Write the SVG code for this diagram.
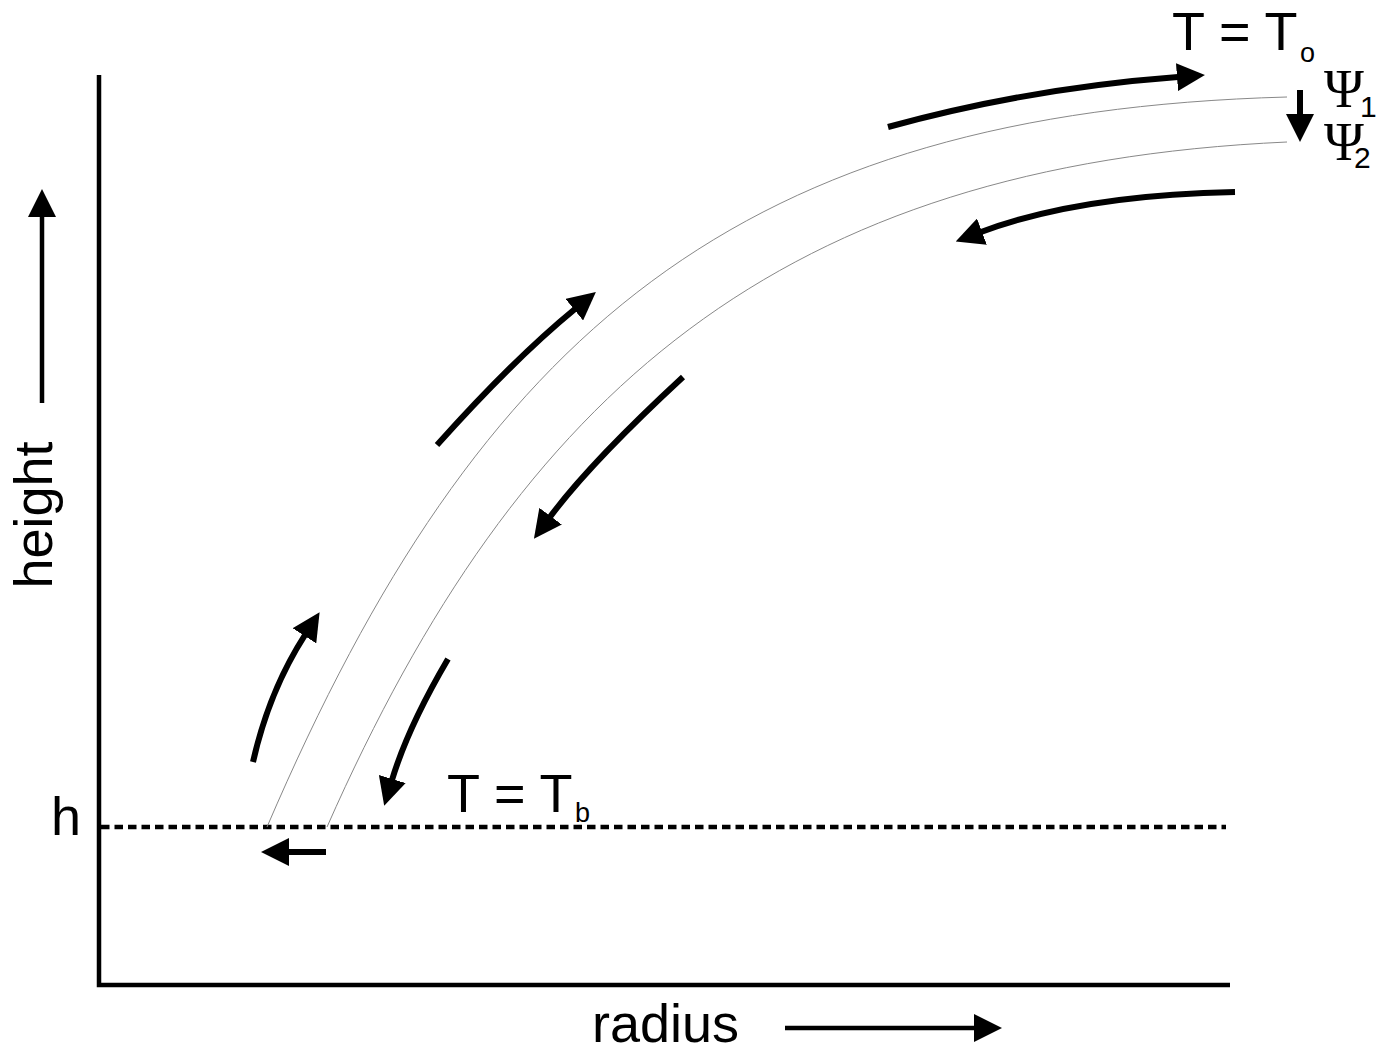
<svg xmlns="http://www.w3.org/2000/svg" width="1377" height="1055" viewBox="0 0 1377 1055">
<style>
.lbl{font-family:"Liberation Sans",Arial,sans-serif;fill:#000}
.psi{font-family:"Liberation Serif","Times New Roman",serif;fill:#000}
.axis{stroke:#000;stroke-width:4.5;fill:none}
.flow{stroke:#000;stroke-width:6;fill:none;marker-end:url(#head)}
.thin{stroke:#000;stroke-width:4.5;fill:none;marker-end:url(#head)}
.stream{stroke:#888;stroke-width:1;fill:none}
</style>
<defs>
<marker id="head" markerUnits="userSpaceOnUse" viewBox="0 0 28 28" markerWidth="28" markerHeight="28" refX="1" refY="14" orient="auto">
<path d="M0,0 L28,14 L0,28 Z" fill="#000"/>
</marker>
</defs>
<rect width="1377" height="1055" fill="#fff"/>
<g id="axes">
<path class="axis" d="M99,75 L99,985 L1230,985"/>
</g>
<g id="base-level">
<line x1="101" y1="827" x2="1226" y2="827" stroke="#000" stroke-width="4.5" stroke-dasharray="8.5,5"/>
</g>
<g id="streamlines">
<path id="psi1-line" class="stream" d="M267,827 C480,330 740,112 1287,97"/>
<path id="psi2-line" class="stream" d="M327,827 C520,390 780,165 1287,142"/>
</g>
<g id="connectors">
<path class="flow" d="M888,127 Q1030,88 1178,77"/>
<path class="flow" d="M1235,192 Q1080,195 981,232"/>
<path class="flow" d="M437,445 Q514,359 575,309"/>
<path class="flow" d="M683,377 Q590,463 550,517"/>
<path class="flow" d="M253,762 Q269,691 305,635"/>
<path class="flow" d="M448,659 Q408,727 392,780"/>
<path class="flow" d="M326,852 L288,852"/>
<path class="flow" d="M1300,90 L1300,115"/>
<path class="thin" d="M42,403 L42,216"/>
<path class="thin" d="M785,1028 L975,1028"/>
</g>
<g id="label-top">
<text class="lbl" x="1172" y="50" font-size="54">T = T<tspan x="1300" y="62" font-size="27">o</tspan></text>
</g>
<g id="label-psi">
<text class="psi" font-size="54"><tspan x="1324" y="107">Ψ</tspan><tspan class="lbl" x="1360" y="117" font-size="30">1</tspan><tspan x="1324" y="160">Ψ</tspan><tspan class="lbl" x="1354" y="168" font-size="30">2</tspan></text>
</g>
<g id="label-bottom">
<text class="lbl" x="447" y="812" font-size="54">T = T<tspan x="575" y="822" font-size="27">b</tspan></text>
</g>
<g id="label-h">
<text class="lbl" x="51" y="835" font-size="54">h</text>
</g>
<g id="label-height">
<text class="lbl" x="52" y="515" font-size="54" text-anchor="middle" transform="rotate(-90 52 515)">height</text>
</g>
<g id="label-radius">
<text class="lbl" x="592" y="1042" font-size="54">radius</text>
</g>
</svg>
